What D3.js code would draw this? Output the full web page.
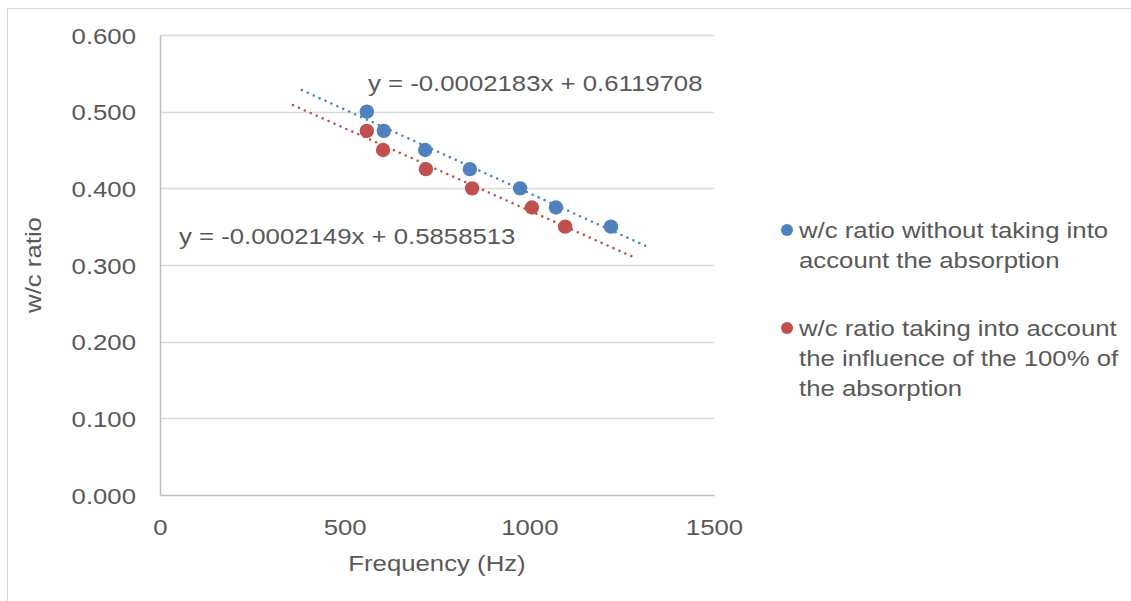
<!DOCTYPE html>
<html>
<head>
<meta charset="utf-8">
<script src="https://cdn.jsdelivr.net/npm/d3@7"></script>
<style>
  body { margin: 0; background: #fff; }
  text { font-family: "Liberation Sans", Arial, sans-serif; fill: #595959; }
</style>
</head>
<body>
<div id="chart"></div>
<script>
// values
const freqWithout = [560, 606, 718, 839, 975, 1072, 1221]
const wcWithout = [0.500, 0.475, 0.450, 0.425, 0.400, 0.375, 0.350]
const freqWith = [560, 604, 720, 845, 1007, 1097]
const wcWith = [0.475, 0.450, 0.425, 0.400, 0.375, 0.350]
// trendline coefficients and the span Excel draws them over
const trendSlope = [-0.0002183, -0.0002149]
const trendIntercept = [0.6119708, 0.5858513]
const trendSpan = [[384, 1319], [360, 1281]]
const trendLabels = ['y = -0.0002183x + 0.6119708', 'y = -0.0002149x + 0.5858513']
const seriesNames = [
    ['w/c ratio without taking into', 'account the absorption'],
    ['w/c ratio taking into account', 'the influence of the 100% of', 'the absorption']
]
const xTicks = [0, 500, 1000, 1500]
const yTicks = [0, 0.1, 0.2, 0.3, 0.4, 0.5, 0.6]

const width = 1131
const height = 601
const margin = { top: 35, left: 160, right: 417, bottom: 106 }
const colors = ['#4f81bd', '#c0504d']
const fontSize = 23
const sx = 1.12 // the reference text runs a bit wide

const svg = d3.select('#chart').append('svg')
    .attr('width', width)
    .attr('height', height)

// chart frame
svg.append('rect')
    .attr('x', 7.5).attr('y', 8.5)
    .attr('width', width + 20).attr('height', height + 20)
    .attr('fill', 'none')
    .attr('stroke', '#d9d9d9')

const x = d3.scaleLinear()
    .domain([0, 1500])
    .range([margin.left, width - margin.right])
const y = d3.scaleLinear()
    .domain([0, 0.6])
    .range([height - margin.bottom, margin.top])

function wideText(parent, px, py, str, anchor = 'start') {
    return parent.append('g')
        .attr('transform', `translate(${px},${py}) scale(${sx},1)`)
        .append('text')
        .attr('text-anchor', anchor)
        .attr('font-size', fontSize)
        .text(str)
}

// gridlines
svg.append('g')
    .selectAll('line')
    .data(yTicks.slice(1))
    .join('line')
    .attr('x1', x(0)).attr('x2', x(1500))
    .attr('y1', d => Math.round(y(d)) + 0.5)
    .attr('y2', d => Math.round(y(d)) + 0.5)
    .attr('stroke', '#d9d9d9')
    .attr('stroke-width', 1.5)

// axes
const yAxis = svg.append('g')
    .attr('transform', `translate(${x(0)},0)`)
    .call(d3.axisLeft(y).tickValues(yTicks).tickFormat(d3.format('.3f')).tickSize(0).tickPadding(0))
yAxis.select('.domain').attr('stroke', '#bfbfbf').attr('stroke-width', 1.5)
yAxis.selectAll('text')
    .attr('font-size', fontSize)
    .attr('font-family', null)
    .attr('fill', '#595959')
    .attr('x', -24 / sx)
    .attr('dy', '0.35em')
    .attr('transform', `scale(${sx},1)`)

const xAxis = svg.append('g')
    .attr('transform', `translate(0,${y(0)})`)
    .call(d3.axisBottom(x).tickValues(xTicks).tickFormat(d3.format('d')).tickSize(0).tickPadding(0))
xAxis.select('.domain').attr('stroke', '#bfbfbf').attr('stroke-width', 1.5)
xAxis.selectAll('text')
    .attr('font-size', fontSize)
    .attr('font-family', null)
    .attr('fill', '#595959')
    .attr('y', 40)
    .attr('dy', 0)
    .attr('transform', `scale(${sx},1)`)
    .attr('x', 0)

// axis titles
wideText(svg, (x(0) + x(1500)) / 2, 571, 'Frequency (Hz)', 'middle')
svg.append('g')
    .attr('transform', `translate(41,${(y(0) + y(0.6)) / 2}) rotate(-90) scale(${sx},1)`)
    .append('text')
    .attr('text-anchor', 'middle')
    .attr('font-size', fontSize)
    .text('w/c ratio')

// trendlines
const trendG = svg.append('g')
trendSpan.forEach((span, i) => {
    const pts = span.map(f => [x(f), y(trendSlope[i] * f + trendIntercept[i])])
    trendG.append('path')
        .attr('d', d3.line()(pts))
        .attr('fill', 'none')
        .attr('stroke', colors[i])
        .attr('stroke-width', 2.6)
        .attr('stroke-linecap', 'round')
        .attr('stroke-dasharray', '0 6.5')
})

// points
const series = [
    freqWithout.map((f, i) => [f, wcWithout[i]]),
    freqWith.map((f, i) => [f, wcWith[i]])
]
series.forEach((pts, i) => {
    svg.append('g')
        .selectAll('circle')
        .data(pts)
        .join('circle')
        .attr('cx', d => x(d[0]))
        .attr('cy', d => y(d[1]))
        .attr('r', 7.2)
        .attr('fill', colors[i])
})

// trendline equations
wideText(svg, 368, 91, trendLabels[0])
wideText(svg, 179, 244, trendLabels[1])

// legend
const legendTop = [230, 328]
const lineGap = 30
seriesNames.forEach((lines, i) => {
    svg.append('circle')
        .attr('cx', 787)
        .attr('cy', legendTop[i])
        .attr('r', 6)
        .attr('fill', colors[i])
    lines.forEach((l, j) => {
        wideText(svg, 799, legendTop[i] + 8 + j * lineGap, l)
    })
})
</script>
</body>
</html>
